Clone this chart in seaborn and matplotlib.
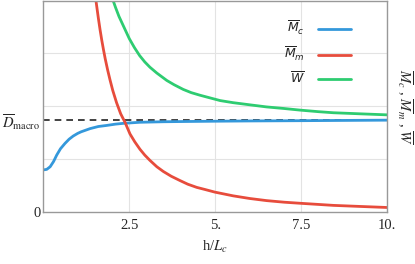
import matplotlib
matplotlib.use("Agg")
import matplotlib.pyplot as plt
import pandas as pd
import seaborn as sns
from matplotlib.font_manager import FontProperties

# values (x = h/L_c)
h_c = [0.0, 0.1, 0.2, 0.3, 0.39, 0.5, 0.63, 0.75, 0.87, 1.0, 1.1, 1.23, 1.36, 1.6, 1.84,
       2.1, 2.33, 2.81, 3.5, 4.2, 5.0, 6.0, 7.5, 10.0]
m_c = [0.80, 0.81, 0.86, 0.96, 1.08, 1.20, 1.30, 1.38, 1.44, 1.49, 1.52, 1.55, 1.58, 1.62, 1.64,
       1.665, 1.68, 1.70, 1.71, 1.715, 1.72, 1.725, 1.73, 1.74]

h_m = [1.48, 1.52, 1.56, 1.60, 1.65, 1.70, 1.75, 1.80, 1.87, 1.94, 2.02, 2.13, 2.25,
       2.375, 2.52, 2.66, 2.81, 2.95, 3.10, 3.30, 3.49, 3.72, 3.97, 4.2, 4.46, 4.7,
       4.99, 5.52, 6.0, 6.49, 7.0, 7.46, 8.43, 9.2, 10.0]
m_m = [4.25, 4.05, 3.86, 3.67, 3.45, 3.25, 3.07, 2.90, 2.69, 2.50, 2.30, 2.07, 1.86,
       1.70, 1.48, 1.33, 1.19, 1.08, 0.98, 0.86, 0.77, 0.68, 0.60, 0.53, 0.47, 0.43,
       0.38, 0.31, 0.26, 0.22, 0.19, 0.17, 0.13, 0.11, 0.09]

h_w = [1.97, 2.03, 2.1, 2.2, 2.3, 2.4, 2.5, 2.65, 2.8, 2.95, 3.1, 3.3, 3.59, 3.8, 4.07,
       4.3, 4.56, 4.85, 5.14, 5.52, 6.0, 6.49, 7.0, 7.46, 8.0, 8.43, 9.2, 10.0]
w = [4.12, 4.00, 3.87, 3.70, 3.56, 3.42, 3.28, 3.11, 2.96, 2.84, 2.74, 2.63, 2.49, 2.41, 2.32,
     2.26, 2.21, 2.16, 2.11, 2.07, 2.03, 1.99, 1.96, 1.93, 1.90, 1.88, 1.86, 1.84]

d_macro = 1.74

x_ticks = [2.5, 5.0, 7.5, 10.0]
x_tick_labels = ["2.5", "5.", "7.5", "10."]

series = [
    (h_c, m_c, r"$\overline{M}_c$", "#3498db"),
    (h_m, m_m, r"$\overline{M}_m$", "#e74c3c"),
    (h_w, w, r"$\overline{W}$", "#2ecc71"),
]

sns.set_theme(style="whitegrid")
plt.rcParams["font.family"] = ["Liberation Serif", "DejaVu Serif"]
plt.rcParams["mathtext.fontset"] = "stix"

fig = plt.figure(figsize=(4.15, 2.64), dpi=100)
ax = fig.add_axes([0.1043, 0.196, 0.829, 0.802])

for xs, ys, label, color in series:
    df = pd.DataFrame({"h": xs, "v": ys})
    sns.lineplot(data=df, x="h", y="v", ax=ax, color=color, linewidth=2.0,
                 label=label, sort=False)

ax.axhline(d_macro, color="#222222", linestyle=(0, (4, 3)), linewidth=1.2, zorder=1)

ax.set_xlim(0, 10)
ax.set_ylim(0, 4)
ax.set_xticks(x_ticks)
ax.set_xticklabels(x_tick_labels, fontsize=10.5)
ax.set_yticks([0, d_macro])
ax.set_yticklabels(["0", r"$\overline{D}_{\rm macro}$"], fontsize=10.5)
ax.set_yticks([1, 2, 3], minor=True)
ax.grid(False)
ax.grid(True, axis="x", which="major", color="#e3e3e3", linewidth=0.8)
ax.grid(True, axis="y", which="minor", color="#e3e3e3", linewidth=0.8)
ax.tick_params(axis="y", which="both", length=0, pad=2)
ax.tick_params(axis="x", length=2, color="#999999", pad=3)

for sp in ax.spines.values():
    sp.set_color("#999999")
    sp.set_linewidth(1.0)

ax.set_xlabel(r"h/$L_c$", fontsize=10.5, labelpad=5)
ax.yaxis.set_label_position("right")
ax.set_ylabel(r"$\overline{M}_c$ , $\overline{M}_m$ , $\overline{W}$", fontsize=10.5,
              rotation=270, labelpad=20)

leg_font = FontProperties(family="DejaVu Sans", size=9, math_fontfamily="dejavusans")
ax.legend(loc="upper right", bbox_to_anchor=(0.928, 0.965), frameon=False, markerfirst=False,
          prop=leg_font, handlelength=2.7, labelspacing=0.62, handletextpad=1.0)

fig.savefig("out.png", dpi=100)
